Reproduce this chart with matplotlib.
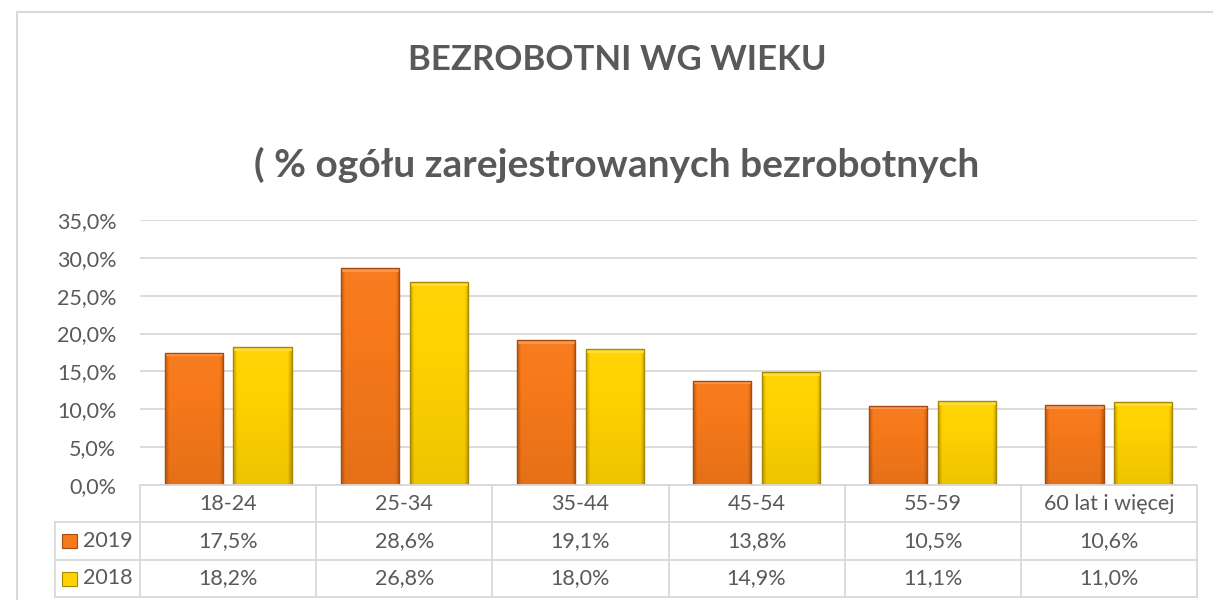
import numpy as np
import matplotlib
matplotlib.use("Agg")
import matplotlib.pyplot as plt
from matplotlib.patches import Rectangle
from matplotlib.colors import to_rgb

categories = ["18-24", "25-34", "35-44", "45-54", "55-59", "60 lat i więcej"]
series_names = ["2019", "2018"]
values_2019 = [17.5, 28.6, 19.1, 13.8, 10.5, 10.6]
values_2018 = [18.2, 26.8, 18.0, 14.9, 11.1, 11.0]
yticks = [0, 5, 10, 15, 20, 25, 30, 35]
title1 = "BEZROBOTNI WG WIEKU"
title2 = "( % ogółu zarejestrowanych bezrobotnych"

W, H = 1213, 600
DPI = 100
FONT = "Lato"
TXT = "#595959"
GRID = "#D9D9D9"
FS = 15.5

fig = plt.figure(figsize=(W / DPI, H / DPI), dpi=DPI)
fig.patch.set_facecolor("white")

def fx(px): return px / W
def fy(py): return 1 - py / H

left, right, top, bottom = 140, 1197, 220, 485
ax = fig.add_axes([fx(left), fy(bottom), fx(right) - fx(left), fy(top) - fy(bottom)])
ax.set_xlim(-0.5, len(categories) - 0.5)
ax.set_ylim(0, 35)
ax.set_axisbelow(True)
for s in ax.spines.values():
    s.set_visible(False)
ax.set_yticks(yticks)
ax.set_yticklabels([f"{v:.1f}%".replace(".", ",") for v in yticks],
                   fontsize=FS, color=TXT, family=FONT)
ax.tick_params(axis="y", length=0, pad=17)
ax.set_xticks([])
ax.yaxis.grid(True, color=GRID, lw=1.3)

# outer chart border
fig.add_artist(plt.Line2D([fx(17), fx(17)], [fy(12), 0], color=GRID, lw=1.5))
fig.add_artist(plt.Line2D([fx(17), 1], [fy(12), fy(12)], color=GRID, lw=1.5))

# titles
fig.text(fx(617), fy(60), title1, ha="center", va="center", fontsize=25,
         fontweight="bold", color=TXT, family=FONT)
fig.text(fx(617), fy(165), title2, ha="center", va="center", fontsize=28,
         fontweight="bold", color=TXT, family=FONT)

def shade(c, f):
    r = np.array(to_rgb(c))
    if f >= 0:
        return tuple(r + (1 - r) * f)
    return tuple(r * (1 + f))

colors = ["#F7791A", "#FFD300"]
edge = ["#A84A10", "#A88800"]
width = 0.33
offs = [-0.195, 0.195]
x = np.arange(len(categories))

def gradient_bar(rect, base):
    nx, ny = 60, 120
    xs = np.linspace(0, 1, nx)
    ys = np.linspace(0, 1, ny)
    X, Y = np.meshgrid(xs, ys)
    side = np.minimum(X, 1 - X)
    img = np.zeros((ny, nx, 3))
    b = np.array(to_rgb(base))
    factor = 0.03 - 0.10 * (1 - Y)
    factor = factor - np.where(side < 0.07, (0.07 - side) / 0.07 * 0.22, 0)
    for i in range(3):
        ch = np.where(factor >= 0, b[i] + (1 - b[i]) * factor, b[i] * (1 + factor))
        img[..., i] = np.clip(ch, 0, 1)
    x0, y0 = rect.get_x(), rect.get_y()
    w, h = rect.get_width(), rect.get_height()
    im = ax.imshow(img, extent=[x0, x0 + w, y0, y0 + h], origin="lower",
                   aspect="auto", zorder=2.5, interpolation="bilinear")
    im.set_clip_path(rect)
    th = 0.5
    top_rect = Rectangle((x0, y0 + h - th), w, th, facecolor=shade(base, 0.22),
                         edgecolor="none", zorder=2.6)
    ax.add_patch(top_rect)
    top_rect.set_clip_path(rect)

for vals, c, e, o in zip([values_2019, values_2018], colors, edge, offs):
    bars = ax.bar(x + o, vals, width, color=c, edgecolor=e, linewidth=1.0, zorder=3)
    for b in bars:
        b.set_facecolor("none")
        gradient_bar(b, c)
ax.set_xlim(-0.5, len(categories) - 0.5)
ax.set_ylim(0, 35)

# data table
rows_y = [485, 522, 560, 597]
col_x = [left + (right - left) * k / len(categories) for k in range(len(categories) + 1)]
leg_left = 55
lw = 1.3
fig.add_artist(plt.Line2D([fx(left), fx(right)], [fy(485), fy(485)], color=GRID, lw=lw))
for yy in rows_y[1:]:
    fig.add_artist(plt.Line2D([fx(leg_left), fx(right)], [fy(yy), fy(yy)], color=GRID, lw=lw))
for xx in col_x:
    fig.add_artist(plt.Line2D([fx(xx), fx(xx)], [fy(485), fy(597)], color=GRID, lw=lw))
fig.add_artist(plt.Line2D([fx(leg_left), fx(leg_left)], [fy(522), fy(597)], color=GRID, lw=lw))

centers = [(col_x[k] + col_x[k + 1]) / 2 for k in range(len(categories))]
for k, cat in enumerate(categories):
    fig.text(fx(centers[k]), fy(503.5), cat, ha="center", va="center",
             fontsize=FS, color=TXT, family=FONT)
for r, (vals, name, c, e) in enumerate(zip([values_2019, values_2018], series_names, colors, edge)):
    yc = (rows_y[r + 1] + rows_y[r + 2]) / 2
    for k, v in enumerate(vals):
        fig.text(fx(centers[k]), fy(yc), f"{v:.1f}%".replace(".", ","), ha="center",
                 va="center", fontsize=FS, color=TXT, family=FONT)
    sw = Rectangle((fx(62), fy(yc + 7)), fx(15), fy(0) - fy(14), transform=fig.transFigure,
                   facecolor=c, edgecolor=e, lw=0.8)
    fig.add_artist(sw)
    fig.text(fx(83), fy(yc), name, ha="left", va="center", fontsize=FS, color=TXT, family=FONT)

fig.savefig("out.png", dpi=DPI, facecolor="white")
